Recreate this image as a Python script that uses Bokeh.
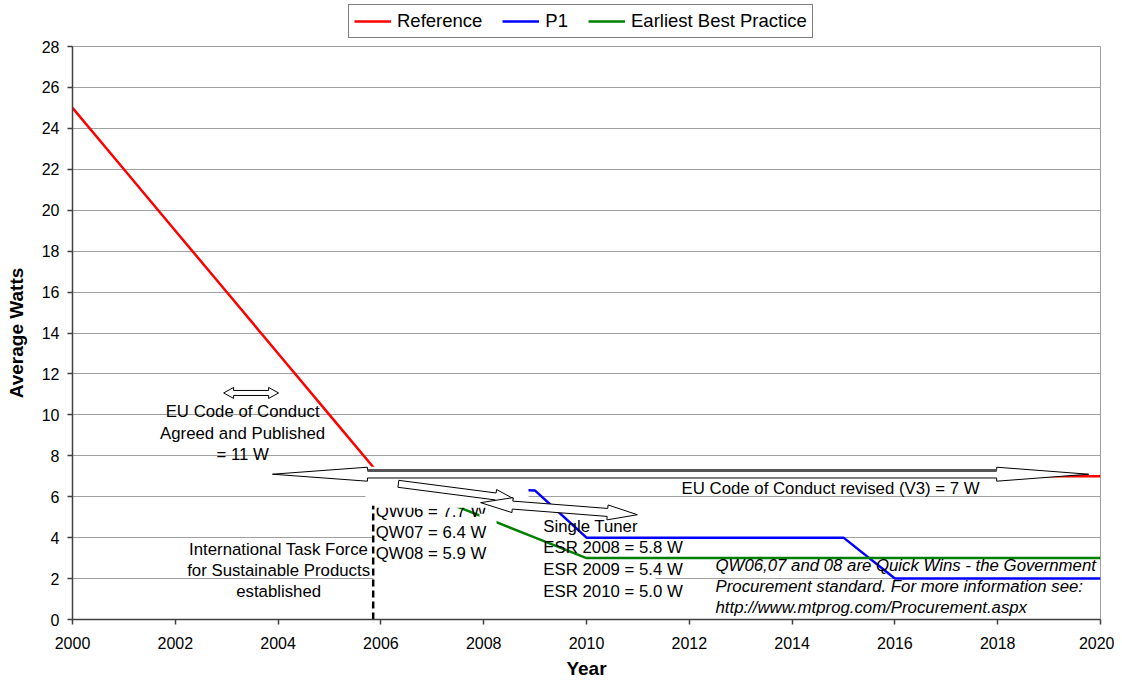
import math
from bokeh.plotting import figure
from bokeh.layouts import column
from bokeh.models import Range1d, FixedTicker, Legend, LegendItem, ColumnDataSource
from bokeh.core.properties import value
from bokeh.embed import file_html
from bokeh.resources import INLINE

# ---------------- data ----------------
ref_years = [2000, 2001, 2002, 2003, 2004, 2005, 2006, 2020]
ref_watts = [25, 22, 19, 16, 13, 10, 7, 7]
p1_years = [2008, 2009, 2010, 2015, 2016, 2020]
p1_watts = [6.4, 6.3, 4, 4, 2, 2]
ebp_years = [2007, 2008, 2009, 2010, 2020]
ebp_watts = [6, 5, 4, 3, 3]
x_ticks = [2000, 2002, 2004, 2006, 2008, 2010, 2012, 2014, 2016, 2018, 2020]
y_ticks = [0, 2, 4, 6, 8, 10, 12, 14, 16, 18, 20, 22, 24, 26, 28]
series_names = ["Reference", "P1", "Earliest Best Practice"]
series_colors = ["#ff0000", "#0000ff", "#008000"]

# ---------------- annotations ----------------
eu_lines = ["EU Code of Conduct", "Agreed and Published", "= 11 W"]
eu_x = 2003.31
eu_y = [10.15, 9.07, 8.05]
itf_lines = ["International Task Force", "for Sustainable Products", "established"]
itf_x = 2004.01
itf_y = [3.41, 2.39, 1.37]
qw_lines = ["QW06 = 7.7 W", "QW07 = 6.4 W", "QW08 = 5.9 W"]
qw_x = 2005.90
qw_y = [5.27, 4.24, 3.22]
esr_lines = ["Single Tuner", "ESR 2008 = 5.8 W", "ESR 2009 = 5.4 W", "ESR 2010 = 5.0 W"]
esr_x = 2009.16
esr_y = [4.54, 3.51, 2.44, 1.37]
v3_label = "EU Code of Conduct revised (V3) = 7 W"
v3_x, v3_y = 2011.85, 6.39
note_lines = ["QW06,07 and 08 are Quick Wins - the Government",
              "Procurement standard. For more information see:",
              "http://www.mtprog.com/Procurement.aspx"]
note_x = 2012.51
note_y = [2.64, 1.61, 0.59]
itf_marker_year = 2005.85
itf_marker_top = 5.56

FONT = "Liberation Sans"
TXT = "16.8px"

# frame size (px) and scale
W = 1114
LEG_H = 38
H = 681 - LEG_H
ML, MR, MT, MB = 72, 14, 8, 61
FW, FH = W - ML - MR, H - MT - MB
SX = FW / 20.0
SY = FH / 28.0

p = figure(width=W, height=H, x_range=Range1d(2000, 2020), y_range=Range1d(0, 28),
           output_backend="svg", toolbar_location=None,
           min_border_left=ML, min_border_right=MR, min_border_top=MT, min_border_bottom=MB,
           background_fill_color="white", border_fill_color="white")
p.outline_line_color = "#a0a0a0"
p.xgrid.visible = False
p.ygrid.grid_line_color = "#a0a0a0"
p.ygrid.grid_line_width = 1

for ax in (p.xaxis[0], p.yaxis[0]):
    ax.axis_line_color = "#404040"
    ax.axis_line_width = 1.5
    ax.major_tick_line_color = "#404040"
    ax.major_tick_line_width = 1.5
    ax.major_tick_out = 5
    ax.major_tick_in = 0
    ax.minor_tick_line_color = None
    ax.major_label_text_font = FONT
    ax.major_label_text_font_size = "16px"
    ax.major_label_text_color = "black"
    ax.axis_label_text_font = FONT
    ax.axis_label_text_font_size = "19px"
    ax.axis_label_text_font_style = "bold"
    ax.axis_label_text_color = "black"

p.xaxis.ticker = FixedTicker(ticks=x_ticks)
p.yaxis.ticker = FixedTicker(ticks=y_ticks)
p.xaxis.axis_label = "Year"
p.yaxis.axis_label = "Average Watts"
p.xaxis.major_label_standoff = 12
p.xaxis.axis_label_standoff = 6
p.yaxis.major_label_standoff = 8
p.yaxis.axis_label_standoff = 12

def px2x(px):
    return 2000 + (px - 72) / SX

def py2y(py):
    return (620 - py) / SY

# white box hiding gridlines (under the series)
p.quad(left=[px2x(373)], right=[px2x(655)], top=[py2y(512)], bottom=[py2y(600)],
       fill_color="white", line_color=None)

# series
r_ref = p.line(ref_years, ref_watts, line_color=series_colors[0], line_width=2.5)
r_p1 = p.line(p1_years, p1_watts, line_color=series_colors[1], line_width=2.5)
r_ebp = p.line(ebp_years, ebp_watts, line_color=series_colors[2], line_width=2.5)

def add_text(xs, ys, texts, align="left", style="normal"):
    src = ColumnDataSource(dict(x=xs, y=ys, t=texts))
    p.text(x="x", y="y", text="t", source=src, text_font=value(FONT),
           text_font_size=value(TXT), text_align=align, text_baseline="middle",
           text_color="black", text_font_style=style)

add_text([eu_x] * 3, eu_y, eu_lines, align="center")
add_text([itf_x] * 3, itf_y, itf_lines, align="center")
add_text([qw_x] * 3, qw_y, qw_lines)
add_text([esr_x] * 4, esr_y, esr_lines)
add_text([v3_x], [v3_y], [v3_label])
add_text([note_x] * 3, note_y, note_lines, style="italic")

# white boxes on top of series
p.quad(left=[px2x(365), px2x(479)], right=[px2x(528), px2x(496)],
       top=[py2y(467), py2y(514)], bottom=[py2y(508), py2y(526)],
       fill_color="white", line_color=None)

# dashed marker
p.line([itf_marker_year, itf_marker_year], [0, itf_marker_top], line_color="black",
       line_width=2.5, line_dash="7 4")

def arrow(x0, y0, x1, y1, shaft, head, hl0, hl1):
    X0, Y0, X1, Y1 = x0 * SX, y0 * SY, x1 * SX, y1 * SY
    dx, dy = X1 - X0, Y1 - Y0
    L = math.hypot(dx, dy)
    ux, uy = dx / L, dy / L
    nx, ny = -uy, ux

    def P(t, s):
        return (X0 + ux * t + nx * s, Y0 + uy * t + ny * s)
    pts = []
    if hl0 > 0:
        pts += [P(0, 0), P(hl0, head), P(hl0, shaft)]
    else:
        pts += [P(0, shaft)]
    pts += [P(L - hl1, shaft), P(L - hl1, head), P(L, 0), P(L - hl1, -head), P(L - hl1, -shaft)]
    if hl0 > 0:
        pts += [P(hl0, -shaft), P(hl0, -head)]
    else:
        pts += [P(0, -shaft)]
    xs = [q[0] / SX for q in pts]
    ys = [q[1] / SY for q in pts]
    top = [P(hl0, shaft), P(L - hl1, shaft)]
    return xs, ys, [q[0] / SX for q in top], [q[1] / SY for q in top]

arrows = [
    (2003.89, 7.10, 2019.77, 7.10, 3.8, 7.0, 95, 92),
    (2002.94, 11.07, 2004.01, 11.07, 2.5, 5.5, 10, 10),
    (2006.34, 6.63, 2008.58, 5.90, 3.5, 7.0, 0, 18),
    (2007.94, 5.71, 2010.99, 5.12, 4.0, 7.5, 32, 30),
]
axs, ays = [], []
big_top = None
for i, a in enumerate(arrows):
    xs, ys, tx, ty = arrow(*a)
    axs.append(xs)
    ays.append(ys)
    if i == 0:
        big_top = (tx, ty)
p.patches(axs, ays, fill_color="white", line_color="black", line_width=1)
p.line(big_top[0], big_top[1], line_color="#555555", line_width=3)

# ---------------- legend strip ----------------
lg = figure(width=W, height=LEG_H, x_range=Range1d(0, 1), y_range=Range1d(0, 1),
            output_backend="svg", toolbar_location=None, x_axis_type=None, y_axis_type=None,
            min_border_left=0, min_border_right=0, min_border_top=0, min_border_bottom=0,
            background_fill_color="white", border_fill_color="white")
lg.outline_line_color = None
lg.xgrid.visible = False
lg.ygrid.visible = False
# legend sample lines, placed outside the visible range of the strip
dummies = [lg.line([-5, -4], [-5, -5], line_color=c, line_width=2.5) for c in series_colors]
legend = Legend(items=[LegendItem(label=n, renderers=[r]) for n, r in zip(series_names, dummies)],
                orientation="horizontal", location=(276, 0))
legend.label_text_font = FONT
legend.label_text_font_size = "18.5px"
legend.label_text_color = "black"
legend.glyph_width = 37
legend.label_standoff = 6
legend.spacing = 20
legend.padding = 5
legend.margin = 0
legend.border_line_color = "black"
legend.border_line_width = 1
legend.background_fill_color = "white"
lg.add_layout(legend, "center")

layout = column(lg, p, spacing=0)
open("out.html", "w").write(file_html(layout, INLINE))
